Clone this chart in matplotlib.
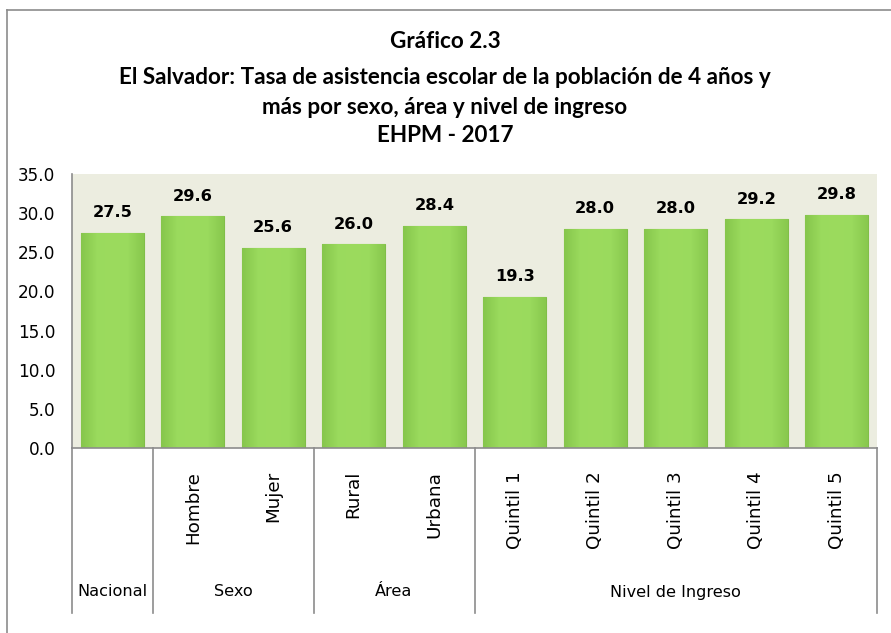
import matplotlib
matplotlib.use("Agg")
import matplotlib.pyplot as plt
import numpy as np
from matplotlib.colors import LinearSegmentedColormap
from matplotlib.lines import Line2D

# data
categories = ["Nacional", "Hombre", "Mujer", "Rural", "Urbana",
              "Quintil 1", "Quintil 2", "Quintil 3", "Quintil 4", "Quintil 5"]
values = [27.5, 29.6, 25.6, 26.0, 28.4, 19.3, 28.0, 28.0, 29.2, 29.8]
groups = ["Nacional", "Sexo", "Área", "Nivel de Ingreso"]
group_sizes = [1, 2, 2, 5]

title_lines = ["Gráfico 2.3",
               "El Salvador: Tasa de asistencia escolar de la población de 4 años y",
               "más por sexo, área y nivel de ingreso",
               "EHPM - 2017"]

W, H = 891, 633
fig = plt.figure(figsize=(W / 100, H / 100), dpi=100)

# outer frame (only left and top visible in the crop)
fig.add_artist(Line2D([7 / W, 7 / W], [0, 1 - 10 / H], color="#8c8c8c", lw=1.2))
fig.add_artist(Line2D([7 / W, 1], [1 - 10 / H, 1 - 10 / H], color="#8c8c8c", lw=1.2))

# title
title_y = [42, 77, 107, 135]
for line, ty in zip(title_lines, title_y):
    fig.text(445 / W, 1 - ty / H, line, ha="center", va="center",
             fontsize=16.2, fontweight="bold", family="Lato")

left, right, top, bottom = 72, 877, 174, 448
ax = fig.add_axes([left / W, 1 - bottom / H, (right - left) / W, (bottom - top) / H])
ax.set_facecolor("#ECEDE0")

x = np.arange(len(categories))
bars = ax.bar(x, values, width=0.78, color="#95D659", edgecolor="#80BE48",
              linewidth=0.8, zorder=2)

# soft horizontal gradient inside each bar
cmap = LinearSegmentedColormap.from_list(
    "g", ["#86C64C", "#9ADA5D", "#9CDB5E", "#9ADA5D", "#88C84E"])
grad = np.linspace(0, 1, 64).reshape(1, -1)
for b in bars:
    im = ax.imshow(grad, cmap=cmap, aspect="auto", zorder=2.5,
                   extent=(b.get_x(), b.get_x() + b.get_width(), 0, b.get_height()))
    im.set_clip_path(b)

for xi, v in zip(x, values):
    ax.annotate(f"{v:.1f}", (xi, v), xytext=(0, 14.5), textcoords="offset points",
                ha="center", va="center", fontsize=11.7, fontweight="bold",
                family="DejaVu Sans")

ax.set_xlim(-0.5, len(categories) - 0.5)
ax.set_ylim(0, 35)
ax.set_yticks(np.arange(0, 36, 5))
ax.set_yticklabels([f"{t:.1f}" for t in np.arange(0, 36, 5)], fontsize=12.2)
ax.tick_params(axis="y", length=0, pad=12)
ax.set_xticks([])

for s in ["top", "right"]:
    ax.spines[s].set_visible(False)
for s in ["left", "bottom"]:
    ax.spines[s].set_color("#8c8c8c")
    ax.spines[s].set_linewidth(1.2)

# category axis below the plot
span = bottom - top
y_low = -(613 - bottom) / span
for xi, c in zip(x, categories):
    if c == "Nacional":
        continue
    ax.text(xi, -(471 - bottom) / span, c, rotation=90, ha="center", va="top",
            fontsize=13.2, transform=ax.get_xaxis_transform(), clip_on=False)

edges = np.concatenate([[0], np.cumsum(group_sizes)]) - 0.5
for e in edges:
    ax.plot([e, e], [0, y_low], color="#8c8c8c", lw=1.2,
            transform=ax.get_xaxis_transform(), clip_on=False)
for g, a, b in zip(groups, edges[:-1], edges[1:]):
    ax.text((a + b) / 2, -(592 - bottom) / span, g, ha="center", va="center",
            fontsize=11.6, transform=ax.get_xaxis_transform(), clip_on=False)

fig.savefig("out.png", dpi=100)
